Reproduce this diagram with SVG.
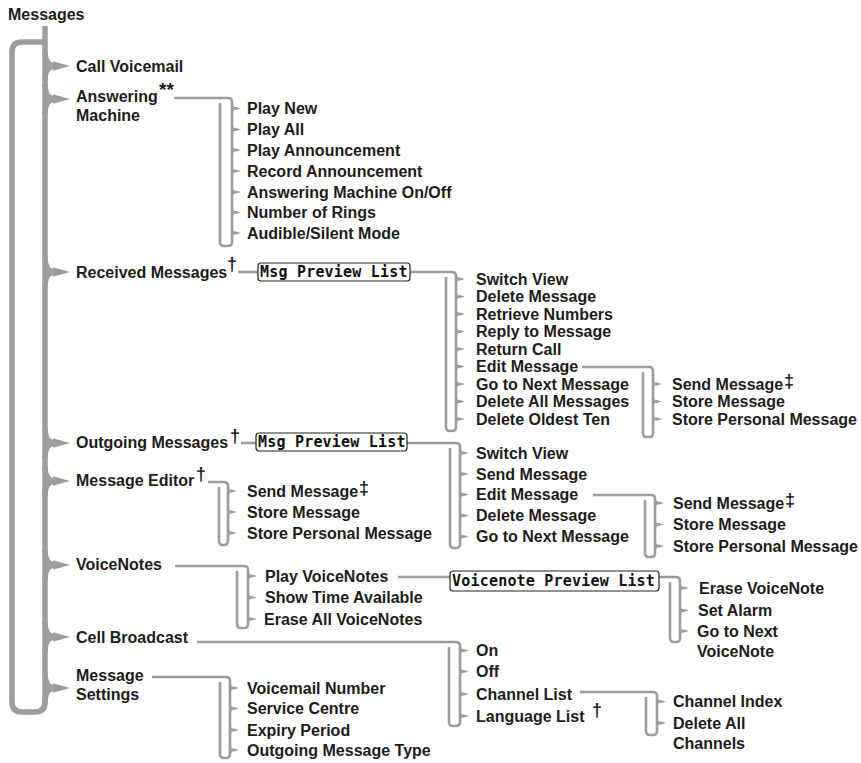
<svg xmlns="http://www.w3.org/2000/svg" width="861" height="763" viewBox="0 0 861 763">
<defs>
<style>
.t{font-family:"Liberation Sans",Arial,Helvetica,sans-serif;font-weight:700;font-size:16px;fill:#1e1b1c}
.s{font-family:"Liberation Sans",Arial,Helvetica,sans-serif;font-weight:700;font-size:18px;fill:#1e1b1c}
.m{font-family:"DejaVu Sans Mono","Liberation Mono",monospace;font-weight:700;font-size:15px;fill:#111;letter-spacing:0.2px}
.box{fill:#fff;stroke:#222;stroke-width:1.2}
.br{fill:none;stroke:#9d9d9d;stroke-width:2.6;stroke-linejoin:round}
.main{fill:none;stroke:#9d9d9d;stroke-width:5.5;stroke-linejoin:round}
</style>
<g id="tk"><path d="M0,-4.5 Q0,0 4,0 Q0,0 0,4.5" fill="none" stroke="#9d9d9d" stroke-width="2"/><path d="M3,-1.8 L9,0 L3,1.8Z" fill="#9d9d9d"/></g>
<g id="bp"><path d="M0,-15 Q0,0 10,0 Q0,0 0,15" fill="none" stroke="#9d9d9d" stroke-width="5.5"/><path d="M8,-4.8 L25,0 L8,4.8 Z" fill="#9d9d9d"/></g>
</defs>
<rect width="861" height="763" fill="#fff"/>
<g id="connectors">
<path class="main" d="M45,26 V702 Q45,712 35,712 H22 Q12,712 12,702 V52 Q12,42 22,42 H45"/>
<use href="#bp" x="45" y="66"/>
<use href="#bp" x="45" y="99"/>
<use href="#bp" x="45" y="272"/>
<use href="#bp" x="45" y="443"/>
<use href="#bp" x="45" y="481"/>
<use href="#bp" x="45" y="565"/>
<use href="#bp" x="45" y="637"/>
<use href="#bp" x="45" y="688"/>
<!-- Answering Machine -->
<path class="br" d="M174,98 H228 Q232,98 232,102 V242 Q232,246 228,246 H224 Q220,246 220,242 V103"/>
<use href="#tk" x="232" y="108.5"/><use href="#tk" x="232" y="129.5"/><use href="#tk" x="232" y="150"/><use href="#tk" x="232" y="171"/><use href="#tk" x="232" y="192"/><use href="#tk" x="232" y="212.5"/><use href="#tk" x="232" y="233"/>
<!-- Received -->
<path class="br" d="M238,272 H258"/>
<path class="br" d="M410,272 H452 Q456,272 456,276 V427 Q456,431 452,431 H450 Q446,431 446,427 V277"/>
<use href="#tk" x="456" y="279"/><use href="#tk" x="456" y="296.5"/><use href="#tk" x="456" y="314"/><use href="#tk" x="456" y="331.5"/><use href="#tk" x="456" y="349"/><use href="#tk" x="456" y="366.5"/><use href="#tk" x="456" y="384"/><use href="#tk" x="456" y="401.5"/><use href="#tk" x="456" y="419"/>
<path class="br" d="M582,367 H649 Q653,367 653,371 V433 Q653,437 649,437 H647 Q643,437 643,433 V372"/>
<use href="#tk" x="653" y="384"/><use href="#tk" x="653" y="401.5"/><use href="#tk" x="653" y="419"/>
<!-- Outgoing -->
<path class="br" d="M241,443 H256"/>
<path class="br" d="M407,443 H456 Q460,443 460,447 V544 Q460,548 456,548 H454 Q450,548 450,544 V448"/>
<use href="#tk" x="460" y="453"/><use href="#tk" x="460" y="474"/><use href="#tk" x="460" y="494.5"/><use href="#tk" x="460" y="515.5"/><use href="#tk" x="460" y="536.5"/>
<path class="br" d="M593,495 H651 Q655,495 655,499 V553 Q655,557 651,557 H649 Q645,557 645,553 V500"/>
<use href="#tk" x="655" y="503"/><use href="#tk" x="655" y="524.5"/><use href="#tk" x="655" y="546"/>
<!-- Message Editor -->
<path class="br" d="M208,482 H224 Q228,482 228,486 V541 Q228,545 224,545 H223 Q219,545 219,541 V487"/>
<use href="#tk" x="228" y="491"/><use href="#tk" x="228" y="512"/><use href="#tk" x="228" y="533"/>
<!-- VoiceNotes -->
<path class="br" d="M175,566 H244 Q248,566 248,570 V624 Q248,628 244,628 H241 Q237,628 237,624 V571"/>
<use href="#tk" x="248" y="576"/><use href="#tk" x="248" y="597.5"/><use href="#tk" x="248" y="619"/>
<path class="br" d="M398,577 H450"/>
<path class="br" d="M659,577 H676 Q680,577 680,581 V638 Q680,642 676,642 H674 Q670,642 670,638 V582"/>
<use href="#tk" x="680" y="588"/><use href="#tk" x="680" y="610.5"/><use href="#tk" x="680" y="631"/>
<!-- Cell Broadcast -->
<path class="br" d="M197,642 H456 Q460,642 460,646 V722 Q460,726 456,726 H453 Q449,726 449,722 V647"/>
<use href="#tk" x="460" y="650.5"/><use href="#tk" x="460" y="671.5"/><use href="#tk" x="460" y="694"/><use href="#tk" x="460" y="716"/>
<path class="br" d="M580,692 H653 Q657,692 657,696 V731 Q657,735 653,735 H650 Q646,735 646,731 V697"/>
<use href="#tk" x="657" y="701.5"/><use href="#tk" x="657" y="723"/>
<!-- Message Settings -->
<path class="br" d="M152,677 H226 Q230,677 230,681 V754 Q230,758 226,758 H224 Q220,758 220,754 V682"/>
<use href="#tk" x="230" y="688"/><use href="#tk" x="230" y="708.5"/><use href="#tk" x="230" y="730"/><use href="#tk" x="230" y="750"/>
</g>
<g id="n-messages"><text class="t" x="8" y="20">Messages</text></g>
<g id="n-call-voicemail"><text class="t" x="76" y="71.5">Call Voicemail</text></g>
<g id="n-answering"><text class="t" x="76" y="101.5">Answering</text><text class="t" x="76" y="120.5">Machine</text><text class="s" x="159" y="96" style="font-size:19px">**</text></g>
<g id="n-am-items">
<text class="t" x="247" y="114">Play New</text>
<text class="t" x="247" y="135">Play All</text>
<text class="t" x="247" y="155.5">Play Announcement</text>
<text class="t" x="247" y="176.5">Record Announcement</text>
<text class="t" x="247" y="197.5">Answering Machine On/Off</text>
<text class="t" x="247" y="218">Number of Rings</text>
<text class="t" x="247" y="238.5">Audible/Silent Mode</text>
</g>
<g id="n-received"><text class="t" x="76" y="277.5">Received Messages</text><text class="s" x="227" y="270">†</text></g>
<g id="n-received-preview"><rect class="box" x="258" y="263" width="152" height="18" rx="3"/><text class="m" x="260" y="277">Msg Preview List</text></g>
<g id="n-received-items">
<text class="t" x="476" y="284.5">Switch View</text>
<text class="t" x="476" y="302">Delete Message</text>
<text class="t" x="476" y="319.5">Retrieve Numbers</text>
<text class="t" x="476" y="337">Reply to Message</text>
<text class="t" x="476" y="354.5">Return Call</text>
<text class="t" x="476" y="372">Edit Message</text>
<text class="t" x="476" y="389.5">Go to Next Message</text>
<text class="t" x="476" y="407">Delete All Messages</text>
<text class="t" x="476" y="424.5">Delete Oldest Ten</text>
</g>
<g id="n-received-edit">
<text class="t" x="672" y="389.5">Send Message</text><text class="s" x="784" y="387">‡</text>
<text class="t" x="672" y="407">Store Message</text>
<text class="t" x="672" y="424.5">Store Personal Message</text>
</g>
<g id="n-outgoing"><text class="t" x="76" y="447.5">Outgoing Messages</text><text class="s" x="230" y="442">†</text></g>
<g id="n-outgoing-preview"><rect class="box" x="256" y="433" width="151" height="18" rx="3"/><text class="m" x="258" y="447">Msg Preview List</text></g>
<g id="n-outgoing-items">
<text class="t" x="476" y="458.5">Switch View</text>
<text class="t" x="476" y="479.5">Send Message</text>
<text class="t" x="476" y="500">Edit Message</text>
<text class="t" x="476" y="521">Delete Message</text>
<text class="t" x="476" y="542">Go to Next Message</text>
</g>
<g id="n-outgoing-edit">
<text class="t" x="673" y="508.5">Send Message</text><text class="s" x="785" y="506">‡</text>
<text class="t" x="673" y="530">Store Message</text>
<text class="t" x="673" y="551.5">Store Personal Message</text>
</g>
<g id="n-editor"><text class="t" x="76" y="486">Message Editor</text><text class="s" x="196" y="480">†</text></g>
<g id="n-editor-items">
<text class="t" x="247" y="496.5">Send Message</text><text class="s" x="359" y="494">‡</text>
<text class="t" x="247" y="517.5">Store Message</text>
<text class="t" x="247" y="538.5">Store Personal Message</text>
</g>
<g id="n-voicenotes"><text class="t" x="76" y="570">VoiceNotes</text></g>
<g id="n-voicenotes-items">
<text class="t" x="265" y="581.5">Play VoiceNotes</text>
<text class="t" x="265" y="603">Show Time Available</text>
<text class="t" x="264" y="624.5">Erase All VoiceNotes</text>
</g>
<g id="n-voicenote-preview"><rect class="box" x="450" y="571" width="209" height="20" rx="3"/><text class="m" x="452" y="586">Voicenote Preview List</text></g>
<g id="n-voicenote-items">
<text class="t" x="699" y="593.5">Erase VoiceNote</text>
<text class="t" x="698" y="616">Set Alarm</text>
<text class="t" x="697" y="636.5">Go to Next</text>
<text class="t" x="697" y="656.5">VoiceNote</text>
</g>
<g id="n-cell"><text class="t" x="76" y="642.5">Cell Broadcast</text></g>
<g id="n-cell-items">
<text class="t" x="476" y="656">On</text>
<text class="t" x="476" y="677">Off</text>
<text class="t" x="476" y="699.5">Channel List</text>
<text class="t" x="476" y="721.5">Language List</text><text class="s" x="592" y="716">†</text>
</g>
<g id="n-channel-items">
<text class="t" x="673" y="707">Channel Index</text>
<text class="t" x="673" y="728.5">Delete All</text>
<text class="t" x="673" y="748.5">Channels</text>
</g>
<g id="n-settings"><text class="t" x="76" y="680.5">Message</text><text class="t" x="76" y="699.5">Settings</text></g>
<g id="n-settings-items">
<text class="t" x="247" y="693.5">Voicemail Number</text>
<text class="t" x="247" y="714">Service Centre</text>
<text class="t" x="247" y="735.5">Expiry Period</text>
<text class="t" x="247" y="755.5">Outgoing Message Type</text>
</g>
</svg>
